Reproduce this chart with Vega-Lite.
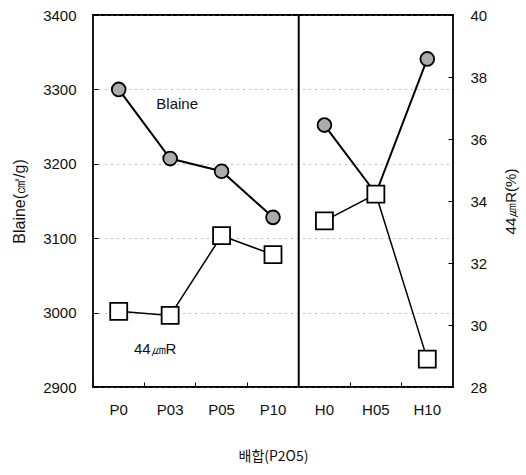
{
  "$schema": "https://vega.github.io/schema/vega-lite/v6.json",
  "width": 360,
  "height": 372,
  "autosize": "none",
  "padding": {"left": 93, "top": 15, "right": 73, "bottom": 88},
  "background": "white",
  "config": {
    "view": {"stroke": "black", "strokeWidth": 1.8},
    "font": "Liberation Sans",
    "axis": {"labelFont": "Liberation Sans", "titleFont": "Liberation Sans", "labelFontSize": 15, "titleFontSize": 15, "labelColor": "#111", "titleColor": "#111", "titleFontWeight": "normal", "tickColor": "black", "tickWidth": 1, "domain": false}
  },
  "datasets": {
    "main": [
      {"cat": "P0", "grp": "P", "blaine": 3300, "r44": 30.44},
      {"cat": "P03", "grp": "P", "blaine": 3207, "r44": 30.31},
      {"cat": "P05", "grp": "P", "blaine": 3190, "r44": 32.88},
      {"cat": "P10", "grp": "P", "blaine": 3128, "r44": 32.27},
      {"cat": "H0", "grp": "H", "blaine": 3252, "r44": 33.36},
      {"cat": "H05", "grp": "H", "blaine": 3160, "r44": 34.22},
      {"cat": "H10", "grp": "H", "blaine": 3341, "r44": 28.9}
    ]
  },
  "encoding": {
    "x": {
      "field": "cat",
      "type": "nominal",
      "sort": ["P0", "P03", "P05", "P10", "H0", "H05", "H10"],
      "scale": {"type": "band", "paddingInner": 0, "paddingOuter": 0},
      "axis": {"title": "배합(P2O5)", "labelAngle": 0, "bandPosition": 0, "tickSize": -5, "labelPadding": 20, "titlePadding": 32, "titleFont": "Noto Sans CJK KR", "titleFontSize": 14}
    }
  },
  "layer": [
    {
      "data": {"values": [{"cat": "H0"}]},
      "mark": {"type": "rule", "color": "black", "strokeWidth": 2},
      "encoding": {"x": {"field": "cat", "type": "nominal", "bandPosition": 0}}
    },
    {
      "layer": [
        {
          "data": {"name": "main"},
          "mark": {"type": "line", "color": "black", "strokeWidth": 2},
          "encoding": {
            "y": {"field": "blaine", "type": "quantitative", "scale": {"domain": [2900, 3400], "nice": false, "zero": false},
              "axis": {"title": "Blaine(㎠/g)", "titleFontSize": 16, "orient": "left", "format": "d", "values": [2900, 3000, 3100, 3200, 3300, 3400], "tickSize": -5, "labelPadding": 22, "titlePadding": 15, "grid": true, "gridColor": "#777", "gridDash": [1, 5], "gridWidth": 1}},
            "detail": {"field": "grp"}
          }
        },
        {
          "data": {"name": "main"},
          "mark": {"type": "point", "shape": "circle", "filled": true, "fill": "#ababab", "stroke": "black", "strokeWidth": 1.8, "size": 190, "opacity": 1},
          "encoding": {"y": {"field": "blaine", "type": "quantitative"}}
        },
        {
          "data": {"values": [{"cat": "P03", "blaine": 3281, "label": "Blaine"}]},
          "mark": {"type": "text", "font": "Liberation Sans", "fontSize": 15, "color": "#111", "dx": 7},
          "encoding": {
            "y": {"field": "blaine", "type": "quantitative"},
            "text": {"field": "label"}
          }
        },
        {
          "data": {"values": [{"cat": "P03", "blaine": 2951, "label": "44㎛R"}]},
          "mark": {"type": "text", "font": "Liberation Sans", "fontSize": 15, "color": "#111", "dx": -15},
          "encoding": {
            "y": {"field": "blaine", "type": "quantitative"},
            "text": {"field": "label"}
          }
        }
      ]
    },
    {
      "layer": [
        {
          "data": {"name": "main"},
          "mark": {"type": "line", "color": "black", "strokeWidth": 1.5},
          "encoding": {
            "y": {"field": "r44", "type": "quantitative", "scale": {"domain": [28, 40], "nice": false, "zero": false},
              "axis": {"title": "44㎛R(%)", "orient": "right", "values": [28, 30, 32, 34, 36, 38, 40], "tickSize": -5, "labelPadding": 22, "titlePadding": 32, "titleAngle": 270, "grid": false}},
            "detail": {"field": "grp"}
          }
        },
        {
          "data": {"name": "main"},
          "mark": {"type": "point", "shape": "square", "filled": true, "fill": "white", "stroke": "black", "strokeWidth": 1.8, "size": 289, "opacity": 1},
          "encoding": {"y": {"field": "r44", "type": "quantitative"}}
        }
      ]
    }
  ],
  "resolve": {"scale": {"y": "independent"}}
}
